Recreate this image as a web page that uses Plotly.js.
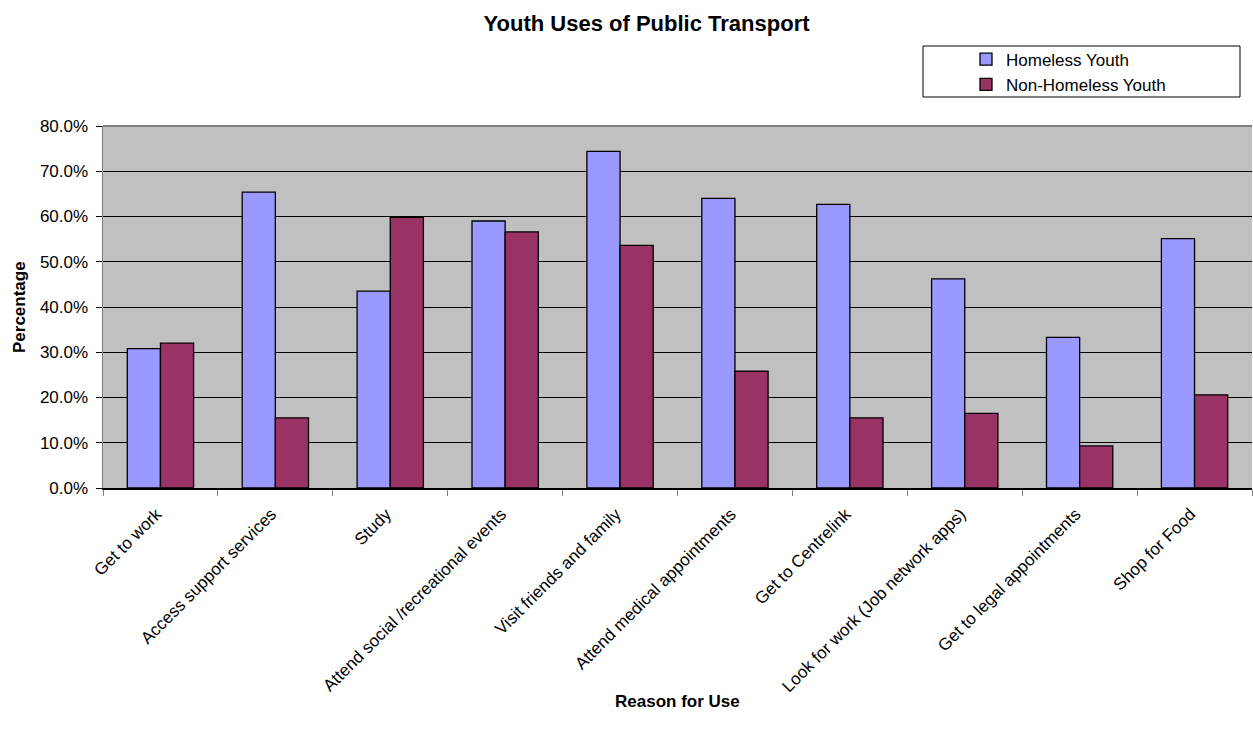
<!DOCTYPE html>
<html>
<head>
<meta charset="utf-8">
<script src="https://cdn.plot.ly/plotly-3.0.1.min.js"></script>
<style>html,body{margin:0;padding:0;background:#fff;}#chart{width:1253px;height:734px;}</style>
</head>
<body>
<div id="chart"></div>
<script>
var categories = ["Get to work", "Access support services", "Study", "Attend social /recreational events", "Visit friends and family", "Attend medical appointments", "Get to Centrelink", "Look for work (Job network apps)", "Get to legal appointments", "Shop for Food"];
var homeless = [30.8, 65.4, 43.5, 59.0, 74.4, 64.0, 62.7, 46.2, 33.3, 55.1];
var nonHomeless = [32.0, 15.5, 59.8, 56.6, 53.6, 25.8, 15.5, 16.5, 9.3, 20.6];
var yTicks = [0, 10, 20, 30, 40, 50, 60, 70, 80];
var yTickLabels = yTicks.map(function(v){ return v.toFixed(1) + "%"; });

var font = "Arial, 'Liberation Sans', sans-serif";
var fs = 17;
var traces = [
  {type: "bar", name: "Homeless Youth", x: categories, y: homeless,
   marker: {color: "#9999FF", line: {color: "#000000", width: 1.3}}},
  {type: "bar", name: "Non-Homeless Youth", x: categories, y: nonHomeless,
   marker: {color: "#993366", line: {color: "#000000", width: 1.3}}}
];
var layout = {
  width: 1253, height: 734,
  margin: {l: 103, r: 1, t: 126, b: 246},
  paper_bgcolor: "#ffffff", plot_bgcolor: "#C0C0C0",
  font: {family: font, size: fs, color: "#000"},
  title: {text: "<b>Youth Uses of Public Transport</b>", font: {family: font, size: 22, color: "#000"},
          x: 0.516, xref: "container", xanchor: "center", y: 0.9687, yref: "container", yanchor: "middle"},
  barmode: "group", bargap: 0.423, bargroupgap: 0,
  showlegend: true,
  legend: {x: (966 - 103) / 1149, xanchor: "left", y: 1.233, yanchor: "top", bgcolor: "rgba(0,0,0,0)",
           borderwidth: 0, font: {family: font, size: fs, color: "#000"}},
  xaxis: {type: "category", tickangle: -45, ticks: "outside", tickson: "boundaries", ticklen: 6,
          tickcolor: "#808080", showline: true, linecolor: "#000", linewidth: 1.5, showgrid: false,
          ticklabelstandoff: 8, ticklabelshift: -4,
          tickfont: {family: font, size: fs, color: "#000"}, automargin: false},
  yaxis: {range: [0, 80], tickvals: yTicks, ticktext: yTickLabels, ticks: "outside", ticklen: 6,
          tickcolor: "#000", showline: true, linecolor: "#808080", linewidth: 1.5,
          showgrid: true, gridcolor: "#000", gridwidth: 1, zeroline: false, ticklabelstandoff: 4,
          tickfont: {family: font, size: fs, color: "#000"}, automargin: false},
  annotations: [
    {text: "<b>Reason for Use</b>", xref: "paper", yref: "paper", x: 0.5, y: (488 - 701) / 362,
     xanchor: "center", yanchor: "middle", showarrow: false, font: {family: font, size: fs, color: "#000"}},
    {text: "<b>Percentage</b>", xref: "paper", yref: "paper", x: (19 - 103) / 1149, y: 0.5, textangle: -90,
     xanchor: "center", yanchor: "middle", showarrow: false, font: {family: font, size: fs, color: "#000"}}
  ],
  shapes: [
    {type: "rect", xref: "paper", yref: "paper", x0: (923 - 103) / 1149, x1: (1240 - 103) / 1149,
     y0: 1 + (126 - 97) / 362, y1: 1 + (126 - 46) / 362,
     line: {color: "#000", width: 1}, fillcolor: "rgba(0,0,0,0)", layer: "below"},
    {type: "line", xref: "paper", yref: "paper", x0: 0, x1: 1, y0: 1, y1: 1,
     line: {color: "#808080", width: 2}}
  ]
};
Plotly.newPlot("chart", traces, layout, {displayModeBar: false, staticPlot: true});
</script>
</body>
</html>
